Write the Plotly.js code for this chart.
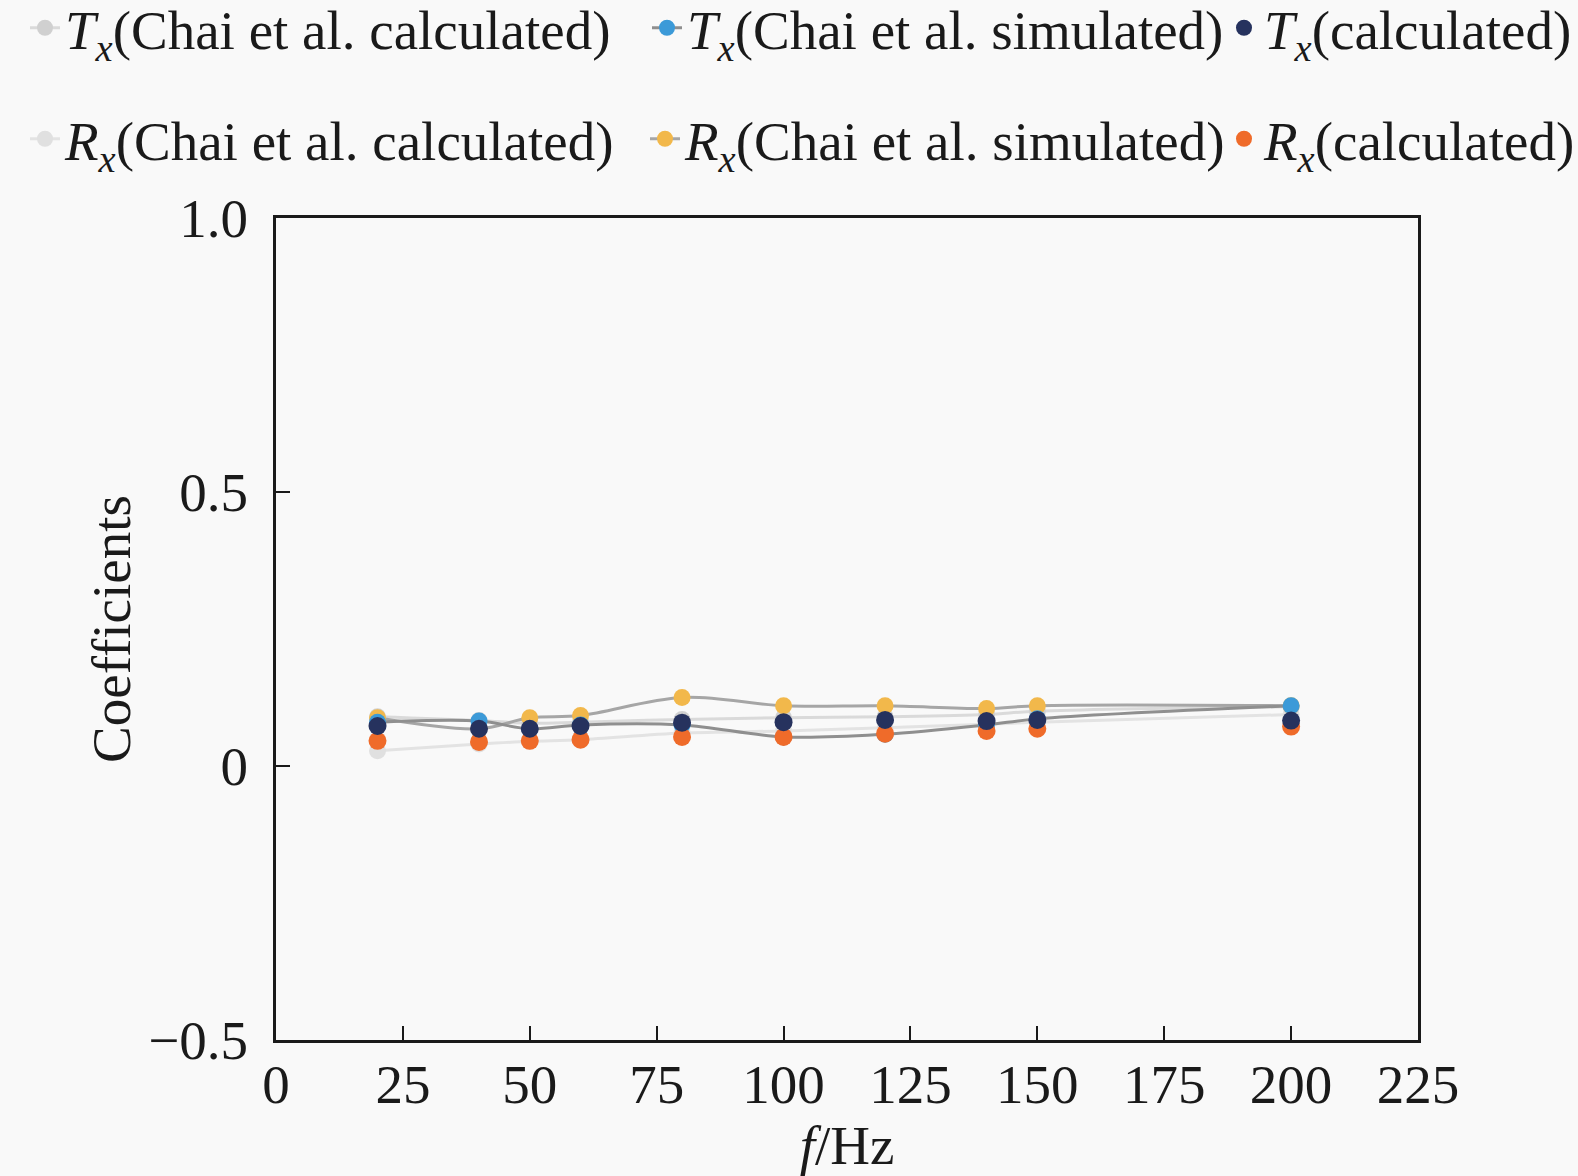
<!DOCTYPE html>
<html>
<head>
<meta charset="utf-8">
<script src="https://cdn.plot.ly/plotly-3.0.1.min.js"></script>
<style>html,body{margin:0;padding:0;background:#f9f9f9;}</style>
</head>
<body>
<div id="chart" style="width:1578px;height:1176px;"></div>
<script>
const freq = [20, 40, 50, 60, 80, 100, 120, 140, 150, 200];
const txChaiCalc = [0.090, 0.083, 0.078, 0.080, 0.085, 0.088, 0.090, 0.094, 0.100, 0.108];
const txChaiSim  = [0.080, 0.082, 0.068, 0.075, 0.075, 0.053, 0.058, 0.075, 0.086, 0.110];
const txCalc     = [0.073, 0.068, 0.068, 0.073, 0.079, 0.080, 0.084, 0.082, 0.084, 0.083];
const rxChaiCalc = [0.028, 0.040, 0.045, 0.048, 0.060, 0.064, 0.070, 0.076, 0.080, 0.094];
const rxChaiSim  = [0.088, 0.068, 0.088, 0.092, 0.125, 0.110, 0.110, 0.105, 0.110, 0.110];
const rxCalc     = [0.046, 0.044, 0.046, 0.048, 0.053, 0.053, 0.059, 0.064, 0.068, 0.072];
const yTickVals = [-0.5, 0, 0.5, 1.0];
const yTickText = ['\u22120.5', '0', '0.5', '1.0'];
const xTickVals = [0, 25, 50, 75, 100, 125, 150, 175, 200, 225];

const serif = 'Liberation Serif, Times New Roman, serif';
const FS = 55;
const lbl = (s, t) => '<i>' + s + '</i><sub><i>x</i></sub>(' + t + ')';

const traces = [
  {x: freq, y: rxChaiCalc, name: lbl('R','Chai et al. calculated'), mode: 'lines+markers', legend: 'legend4',
   line: {color: '#e3e3e3', width: 3, shape: 'spline'}, marker: {color: '#e0e0e0', size: 17}},
  {x: freq, y: txChaiCalc, name: lbl('T','Chai et al. calculated'), mode: 'lines+markers', legend: 'legend',
   line: {color: '#dadada', width: 3, shape: 'spline'}, marker: {color: '#d0d0d0', size: 17}},
  {x: freq, y: rxChaiSim, name: lbl('R','Chai et al. simulated'), mode: 'lines+markers', legend: 'legend5',
   line: {color: '#a6a6a6', width: 3, shape: 'spline'}, marker: {color: '#f2b84b', size: 17}},
  {x: freq, y: txChaiSim, name: lbl('T','Chai et al. simulated'), mode: 'lines+markers', legend: 'legend2',
   line: {color: '#8f8f8f', width: 3, shape: 'spline'}, marker: {color: '#3c9ad8', size: 17}},
  {x: freq, y: rxCalc, name: lbl('R','calculated'), mode: 'markers', legend: 'legend6',
   marker: {color: '#ef6b2a', size: 18}},
  {x: freq, y: txCalc, name: lbl('T','calculated'), mode: 'markers', legend: 'legend3',
   marker: {color: '#26325e', size: 18}}
];

function leg(xpx, ypx) {
  return {orientation: 'h', xref: 'container', yref: 'container', x: xpx / 1578, y: 1 - ypx / 1176,
          xanchor: 'left', yanchor: 'middle', bgcolor: 'rgba(0,0,0,0)', borderwidth: 0,
          font: {family: serif, size: FS, color: '#1a1a1a'}, itemwidth: 30};
}

const layout = {
  width: 1578, height: 1176,
  paper_bgcolor: '#f9f9f9', plot_bgcolor: '#f9f9f9',
  margin: {l: 276, r: 160, t: 218, b: 136, autoexpand: false},
  font: {family: serif, size: FS, color: '#1a1a1a'},
  showlegend: true,
  legend: leg(25, 28),
  legend2: leg(647, 28),
  legend3: leg(1224, 28),
  legend4: leg(25, 139),
  legend5: leg(645, 139),
  legend6: leg(1224, 139),
  xaxis: {range: [0, 225], tickvals: xTickVals, ticks: 'inside', ticklen: 14, tickwidth: 2, tickcolor: '#1a1a1a',
          showline: true, linewidth: 3, linecolor: '#1a1a1a', mirror: true, showgrid: false, zeroline: false,
          tickfont: {family: serif, size: FS}, automargin: false, ticklabelstandoff: -6,
          title: {text: '<i>f</i>/Hz', font: {family: serif, size: FS}, standoff: 0}},
  yaxis: {range: [-0.5, 1.0], tickvals: yTickVals, ticktext: yTickText, ticks: 'inside', ticklen: 14, tickwidth: 2,
          tickcolor: '#1a1a1a', showline: true, linewidth: 3, linecolor: '#1a1a1a', mirror: true, showgrid: false,
          zeroline: false, tickfont: {family: serif, size: FS}, automargin: false, ticklabelstandoff: 14,
          title: {text: 'Coefficients', font: {family: serif, size: FS}, standoff: 0}}
};

Plotly.newPlot('chart', traces, layout, {displayModeBar: false, staticPlot: true});
</script>
</body>
</html>
